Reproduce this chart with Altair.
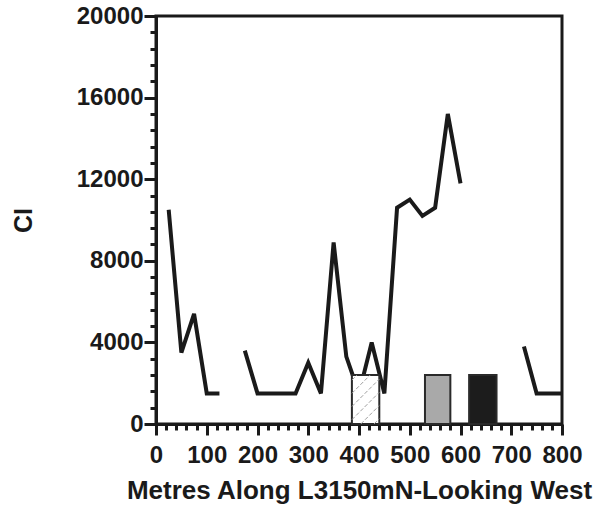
import altair as alt
import pandas as pd

# ---- data ----
metres = list(range(25, 801, 25))
ci = [10500, 3500, 5400, 1500, 1500, None, 3600, 1500, 1500, 1500, 1500, 3000,
      1500, 8900, 3300, 1500, 4000, 1500, 10600, 11000, 10200, 10600, 15200, 11800,
      None, None, None, None, 3800, 1500, 1500, 1500]

bar_start = [386, 530, 617]
bar_end = [440, 580, 671]
bar_top = [2400, 2400, 2400]
bar_fill = ["#ffffff", "#a9a9a9", "#1c1c1c"]

x_ticks = list(range(0, 801, 20))
y_ticks = list(range(0, 20001, 800))

W, H = 406, 408

# line table, split into continuous segments at the gaps
df = pd.DataFrame({"m": metres, "ci": ci})
df["seg"] = df["ci"].isna().cumsum()
df = df.dropna()

bars = pd.DataFrame({"x0": bar_start, "x1": bar_end, "top": bar_top, "fill": bar_fill})

# hatch lines for the first (hatched) bar, 45 degrees on screen
slope = (W / 800) / (H / 20000)
hx0, hx1, htop = bar_start[0], bar_end[0], bar_top[0]
rows = []
c = hx0 - htop / slope + 10
while c < hx1:
    xa = max(c, hx0)
    xb = min(c + htop / slope, hx1)
    if xa < xb:
        rows.append({"xa": xa, "xb": xb, "ya": slope * (xa - c), "yb": slope * (xb - c)})
    c += 26
hatch = pd.DataFrame(rows)

xscale = alt.Scale(domain=[0, 800], nice=False, zero=False)
yscale = alt.Scale(domain=[0, 20000], nice=False)

xaxis = alt.Axis(
    values=x_ticks, tickCount=200, title="Metres Along L3150mN-Looking West",
    labelExpr="datum.value % 100 === 0 ? datum.label : ''", format="d",
    tickSize={"condition": {"test": "datum.value % 100 === 0", "value": 11}, "value": 6},
    labelOverlap=False, labelFlush=False, labelPadding=8, titlePadding=10, grid=False,
    titleFontSize=26,
)
yaxis = alt.Axis(
    values=y_ticks, tickCount=200, title="CI",
    labelExpr="datum.value % 4000 === 0 ? datum.label : ''", format="d",
    tickSize={"condition": {"test": "datum.value % 4000 === 0", "value": 12}, "value": 6},
    labelOverlap=False, labelFlush=False, labelPadding=1, titlePadding=40, grid=False,
    titleFontSize=25,
)

line = alt.Chart(df).mark_line(color="#1a1a1a", strokeWidth=4, strokeJoin="miter").encode(
    x=alt.X("m:Q", scale=xscale, axis=xaxis),
    y=alt.Y("ci:Q", scale=yscale, axis=yaxis),
    detail="seg:N",
)

rects = alt.Chart(bars).mark_rect(stroke="#2a2a2a", strokeWidth=2).encode(
    x="x0:Q", x2="x1:Q", y=alt.Y("top:Q"), y2=alt.datum(0),
    fill=alt.Fill("fill:N", scale=None),
)

hatch_lines = alt.Chart(hatch).mark_rule(color="#a0a0a0", strokeWidth=1, strokeDash=[4, 2]).encode(
    x="xa:Q", x2="xb:Q", y="ya:Q", y2="yb:Q",
)

chart = alt.layer(line, rects, hatch_lines).properties(
    width=W, height=H,
    autosize=alt.AutoSizeParams(type="none"),
    padding={"left": 156, "top": 16, "right": 47, "bottom": 84},
).configure_view(
    stroke="#1a1a1a", strokeWidth=3,
).configure_axis(
    domainColor="#1a1a1a", domainWidth=3, tickColor="#1a1a1a", tickWidth=3,
    labelFont="Liberation Sans", labelFontWeight="bold", labelFontSize=24, labelColor="#1a1a1a",
    titleFont="Liberation Sans", titleFontWeight="bold", titleColor="#1a1a1a",
)

chart.save("out.html", embed_options={"renderer": "svg", "actions": False})
